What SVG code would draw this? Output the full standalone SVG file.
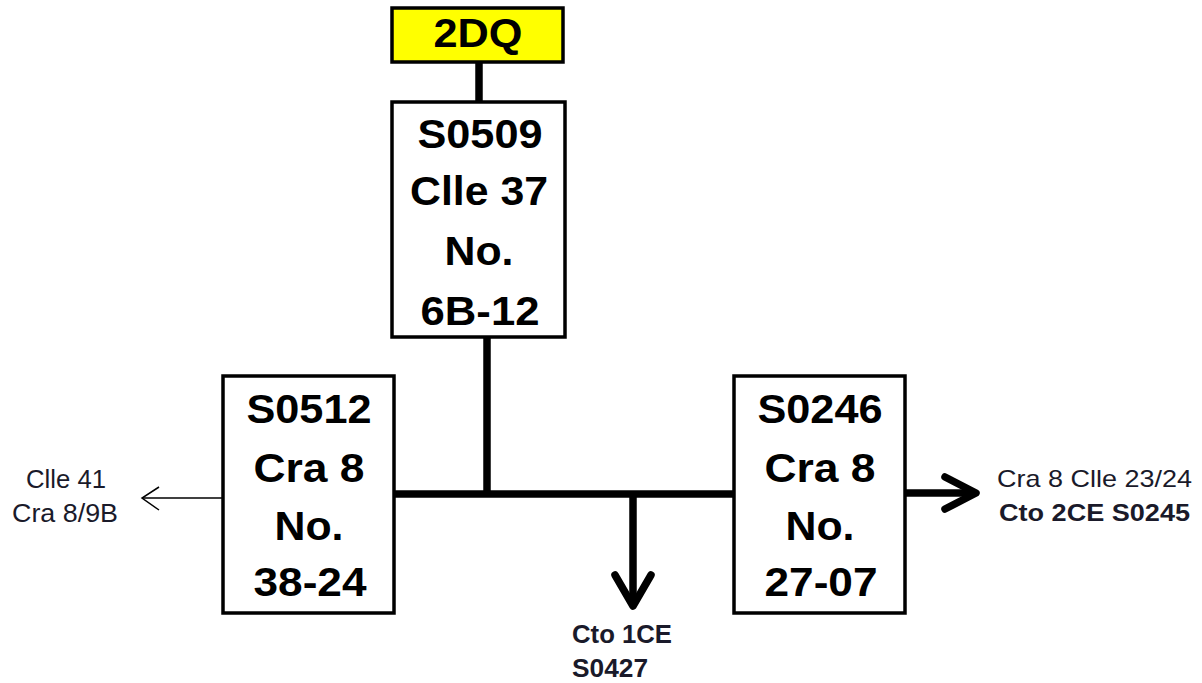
<svg xmlns="http://www.w3.org/2000/svg" width="1202" height="683" viewBox="0 0 1202 683">
<style>
.box{fill:#fff;stroke:#000;stroke-width:3.5}
.hl{fill:#ffff00;stroke:#000;stroke-width:3.5}
.bt{font-family:"Liberation Sans",Arial,sans-serif;font-weight:bold;font-size:40px;fill:#000;text-anchor:middle}
.lt{font-family:"Liberation Sans",Arial,sans-serif;font-size:24px;fill:#1a1a2a}
.lb{font-family:"Liberation Sans",Arial,sans-serif;font-size:24px;font-weight:bold;fill:#1a1a2a}
.big{font-size:26px}
.mid{font-size:25px}
.thick{fill:none;stroke:#000;stroke-width:7.5}
.thin{fill:none;stroke:#000;stroke-width:1.5}
</style>
<rect width="1202" height="683" fill="#fff"/>
<g id="connectors">
<line class="thick" x1="479" y1="62" x2="479" y2="102"/>
<line class="thick" x1="487" y1="337" x2="487" y2="494"/>
<line class="thick" x1="394" y1="494" x2="734" y2="494"/>
<line class="thick" x1="633" y1="494" x2="633" y2="606"/>
<polyline class="thick" points="615,575 633,606 651,575" stroke-linejoin="round" stroke-linecap="round"/>
<line class="thick" x1="905" y1="493" x2="974" y2="493"/>
<polyline class="thick" points="945,477 976,493 945,509" stroke-linejoin="round" stroke-linecap="round"/>
<line class="thin" x1="223" y1="498" x2="142" y2="498"/>
<polyline class="thin" points="159,487 142,498 159,510"/>
</g>
<g id="n2DQ">
<rect class="hl" x="392" y="8" width="171" height="54"/>
<text class="bt" x="478" y="47" textLength="89" lengthAdjust="spacingAndGlyphs">2DQ</text>
</g>
<g id="S0509">
<rect class="box" x="392" y="102" width="173" height="235"/>
<text class="bt" x="480" y="148" textLength="125" lengthAdjust="spacingAndGlyphs">S0509</text>
<text class="bt" x="479" y="205" textLength="138" lengthAdjust="spacingAndGlyphs">Clle 37</text>
<text class="bt" x="479" y="265" textLength="69" lengthAdjust="spacingAndGlyphs">No.</text>
<text class="bt" x="480" y="325" textLength="119" lengthAdjust="spacingAndGlyphs">6B-12</text>
</g>
<g id="S0512">
<rect class="box" x="223" y="376" width="171" height="237"/>
<text class="bt" x="309" y="423" textLength="125" lengthAdjust="spacingAndGlyphs">S0512</text>
<text class="bt" x="309" y="482" textLength="111" lengthAdjust="spacingAndGlyphs">Cra 8</text>
<text class="bt" x="309" y="540" textLength="69" lengthAdjust="spacingAndGlyphs">No.</text>
<text class="bt" x="310" y="596" textLength="113" lengthAdjust="spacingAndGlyphs">38-24</text>
</g>
<g id="S0246">
<rect class="box" x="734" y="376" width="171" height="237"/>
<text class="bt" x="820" y="423" textLength="125" lengthAdjust="spacingAndGlyphs">S0246</text>
<text class="bt" x="820" y="482" textLength="111" lengthAdjust="spacingAndGlyphs">Cra 8</text>
<text class="bt" x="820" y="540" textLength="69" lengthAdjust="spacingAndGlyphs">No.</text>
<text class="bt" x="821" y="596" textLength="113" lengthAdjust="spacingAndGlyphs">27-07</text>
</g>
<g id="label-left">
<text class="lt mid" x="26" y="488" textLength="80" lengthAdjust="spacingAndGlyphs">Clle 41</text>
<text class="lt mid" x="12" y="522" textLength="106" lengthAdjust="spacingAndGlyphs">Cra 8/9B</text>
</g>
<g id="label-right">
<text class="lt" x="997" y="487" textLength="195" lengthAdjust="spacingAndGlyphs">Cra 8 Clle 23/24</text>
<text class="lb" x="999" y="521" textLength="191" lengthAdjust="spacingAndGlyphs">Cto 2CE  S0245</text>
</g>
<g id="label-down">
<text class="lb big" x="572" y="643" textLength="100" lengthAdjust="spacingAndGlyphs">Cto 1CE</text>
<text class="lb big" x="572" y="677" textLength="76" lengthAdjust="spacingAndGlyphs">S0427</text>
</g>
</svg>
